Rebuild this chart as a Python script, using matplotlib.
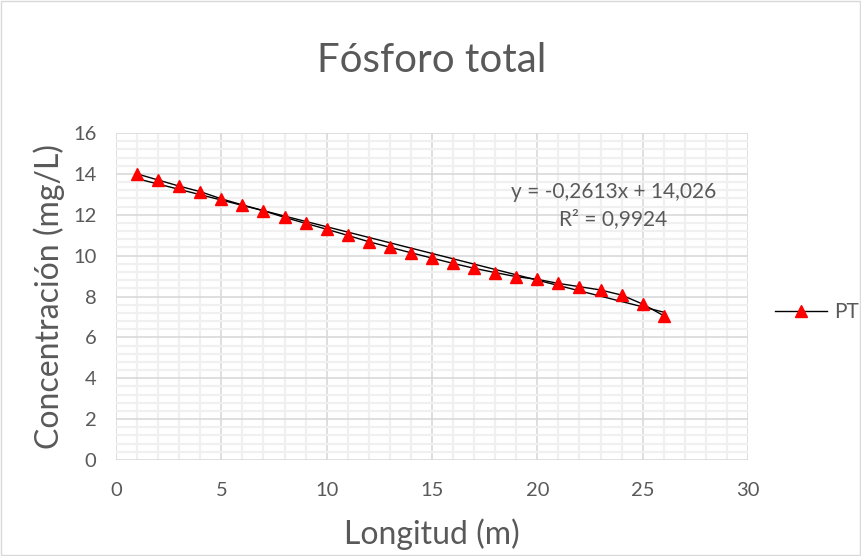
import matplotlib
matplotlib.use('Agg')
import matplotlib.pyplot as plt
from matplotlib.ticker import MultipleLocator
import numpy as np

plt.rcParams['font.family'] = ['Lato', 'DejaVu Sans']

# datos
longitud = list(range(1, 27))
pt = [14.0, 13.7, 13.4, 13.13, 12.78, 12.48, 12.2, 11.87, 11.58, 11.29,
      10.99, 10.68, 10.41, 10.14, 9.88, 9.62, 9.38, 9.17, 8.97, 8.84,
      8.64, 8.48, 8.32, 8.07, 7.63, 7.06]
pendiente = -0.2613
intercepto = 14.026
r2 = 0.9924

gris = '#595959'

fig = plt.figure(figsize=(8.62, 5.56), dpi=100)
ax = fig.add_axes([116 / 862, 96 / 556, 632 / 862, 327 / 556])

# borde del area del grafico
fig.patches.append(plt.Rectangle((0.001, 0.001), 0.997, 0.997, transform=fig.transFigure,
                                 fill=False, edgecolor='#d9d9d9', linewidth=1))

ax.plot(longitud, pt, color='black', linewidth=1, marker='^', markersize=8,
        markerfacecolor='red', markeredgecolor='red', label='PT', zorder=3)

# linea de tendencia
xt = np.array([longitud[0], longitud[-1]])
ax.plot(xt, pendiente * xt + intercepto, color='black', linewidth=1, zorder=2)

ax.set_xlim(0, 30)
ax.set_ylim(0, 16)
ax.xaxis.set_major_locator(MultipleLocator(5))
ax.xaxis.set_minor_locator(MultipleLocator(1))
ax.yaxis.set_major_locator(MultipleLocator(2))
ax.yaxis.set_minor_locator(MultipleLocator(0.4))
ax.grid(which='major', color='#d9d9d9', linewidth=1.2, zorder=0)
ax.grid(which='minor', color='#f0f0f0', linewidth=1.6, zorder=0)
ax.set_axisbelow(True)
for s in ax.spines.values():
    s.set_visible(False)
ax.tick_params(which='both', length=0, labelsize=14.5, labelcolor=gris)
ax.tick_params(axis='x', pad=16)
ax.tick_params(axis='y', pad=14)

ax.set_title('Fósforo total', fontsize=29, color=gris, pad=44)
ax.set_xlabel('Longitud (m)', fontsize=23, color=gris, labelpad=14)
ax.set_ylabel('Concentración (mg/L)', fontsize=23, color=gris, labelpad=6)

ecuacion = 'y = -0,2613x + 14,026\nR² = 0,9924'
ax.text(23.6, 12.45, ecuacion, fontsize=15, color=gris, ha='center', va='center',
        linespacing=1.45)

leg = ax.legend(loc='center left', bbox_to_anchor=(1.03, 0.453), frameon=False,
                fontsize=15, handlelength=2.5, handletextpad=0.3, borderaxespad=0,
                labelcolor=gris)

fig.savefig('out.png', dpi=100)
